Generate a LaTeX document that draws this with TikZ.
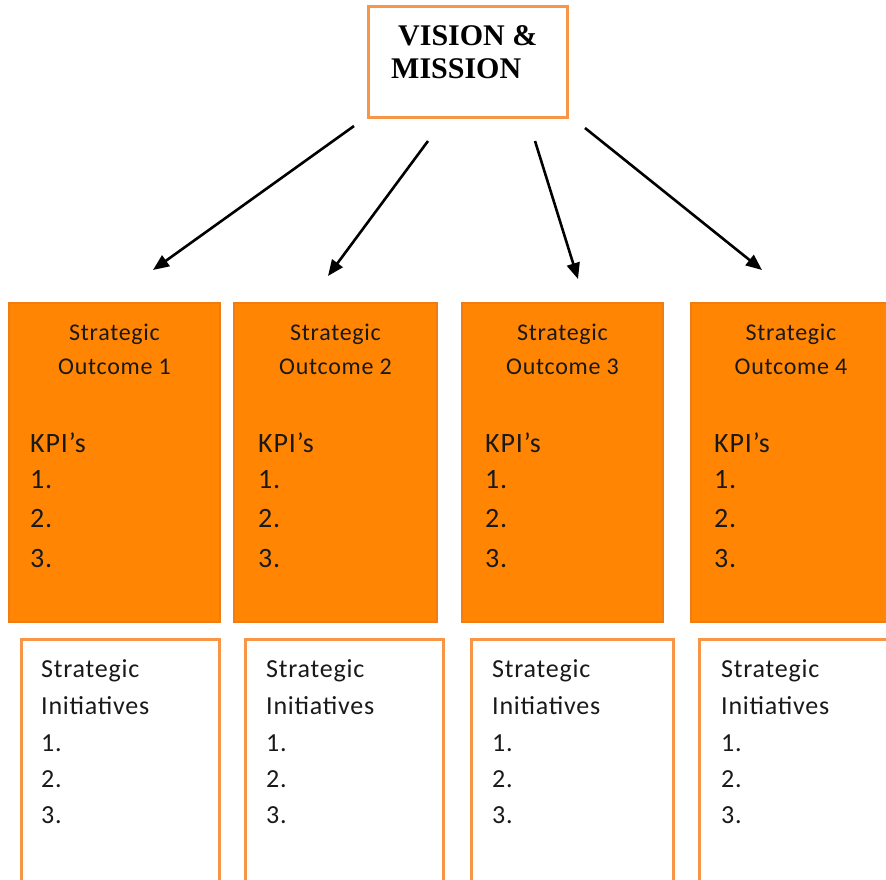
\documentclass[tikz,border=0pt]{standalone}
\usepackage{fontspec}
\setmainfont{Carlito}
\newfontfamily\spfont{Carlito}[LetterSpace=3]
\newfontfamily\vmfont{Liberation Serif}
\usetikzlibrary{arrows.meta}
\definecolor{ofill}{RGB}{255,133,3}
\definecolor{oline}{RGB}{247,150,70}
\definecolor{odark}{RGB}{240,125,20}
\definecolor{txt}{RGB}{25,25,25}
\begin{document}
\begin{tikzpicture}[x=1pt,y=-1pt,
  obox/.style={draw=odark,fill=ofill,line width=1.5pt,minimum width=#1,minimum height=319pt,anchor=north west,inner sep=0,outer sep=0},
  wbox/.style={draw=oline,fill=white,line width=3pt,minimum width=#1,minimum height=300pt,anchor=north west,inner sep=0,outer sep=0},
  head/.style={anchor=base,inner sep=0,text=txt,font=\spfont\fontsize{24}{28}\selectfont},
  item/.style={anchor=base west,inner sep=0,text=txt,font=\spfont\fontsize{28}{32}\selectfont},
  witem/.style={anchor=base west,inner sep=0,text=txt,font=\spfont\fontsize{26}{30}\selectfont},
  arr/.style={line width=2.6pt,-{Triangle[length=16pt,width=13pt]}}]
\useasboundingbox (0,0) rectangle (886,879);
\clip (0,0) rectangle (886,879);
% top box
\node[draw=oline,line width=3pt,fill=white,minimum width=199pt,minimum height=111pt,anchor=north west,inner sep=0,outer sep=0] (vm) at (368,6) {};
\node[anchor=base west,inner sep=0,font=\vmfont\bfseries\fontsize{30}{33}\selectfont] (vm1) at (398,45) {VISION \&};
\node[anchor=base west,inner sep=0,font=\vmfont\bfseries\fontsize{30}{33}\selectfont] (vm2) at (391,78) {MISSION};
% outcome boxes
\node[obox=211pt] (o1) at (9,303) {};
\node[obox=203pt] (o2) at (234,303) {};
\node[obox=201pt] (o3) at (462,303) {};
\node[obox=220pt] (o4) at (691,303) {};
% initiative boxes
\node[wbox=198pt] (w1) at (21,639) {};
\node[wbox=198pt] (w2) at (245,639) {};
\node[wbox=202pt] (w3) at (471,639) {};
\node[wbox=220pt] (w4) at (699,639) {};
% outcome texts
\foreach \n/\cx/\lx in {1/114.5/30, 2/335.5/258, 3/562.5/485, 4/791/714}{
  \node[head] (s\n) at (\cx,340) {Strategic};
  \node[head] (t\n) at (\cx,374) {Outcome \n};
  \node[item] (k\n) at (\lx,452) {KPI’s};
  \node[item] (ka\n) at (\lx,488) {1.};
  \node[item] (kb\n) at (\lx,527.5) {2.};
  \node[item] (kc\n) at (\lx,567) {3.};
}
% initiative texts
\foreach \n/\lx in {1/41, 2/266, 3/492, 4/721}{
  \node[witem] (i\n) at (\lx,677) {Strategic};
  \node[witem] (j\n) at (\lx,714) {Initiatives};
  \node[witem] (ia\n) at (\lx,751) {1.};
  \node[witem] (ib\n) at (\lx,787) {2.};
  \node[witem] (ic\n) at (\lx,823) {3.};
}
% arrows
\coordinate (a1s) at (354,126); \coordinate (a1e) at (153,270);
\coordinate (a2s) at (428,141); \coordinate (a2e) at (328,276);
\coordinate (a3s) at (535,141); \coordinate (a3e) at (578,279);
\coordinate (a4s) at (585,128); \coordinate (a4e) at (762,270);
\draw[arr] (a1s) -- (a1e);
\draw[arr] (a2s) -- (a2e);
\draw[arr] (a3s) -- (a3e);
\draw[arr] (a4s) -- (a4e);
\end{tikzpicture}
\end{document}
